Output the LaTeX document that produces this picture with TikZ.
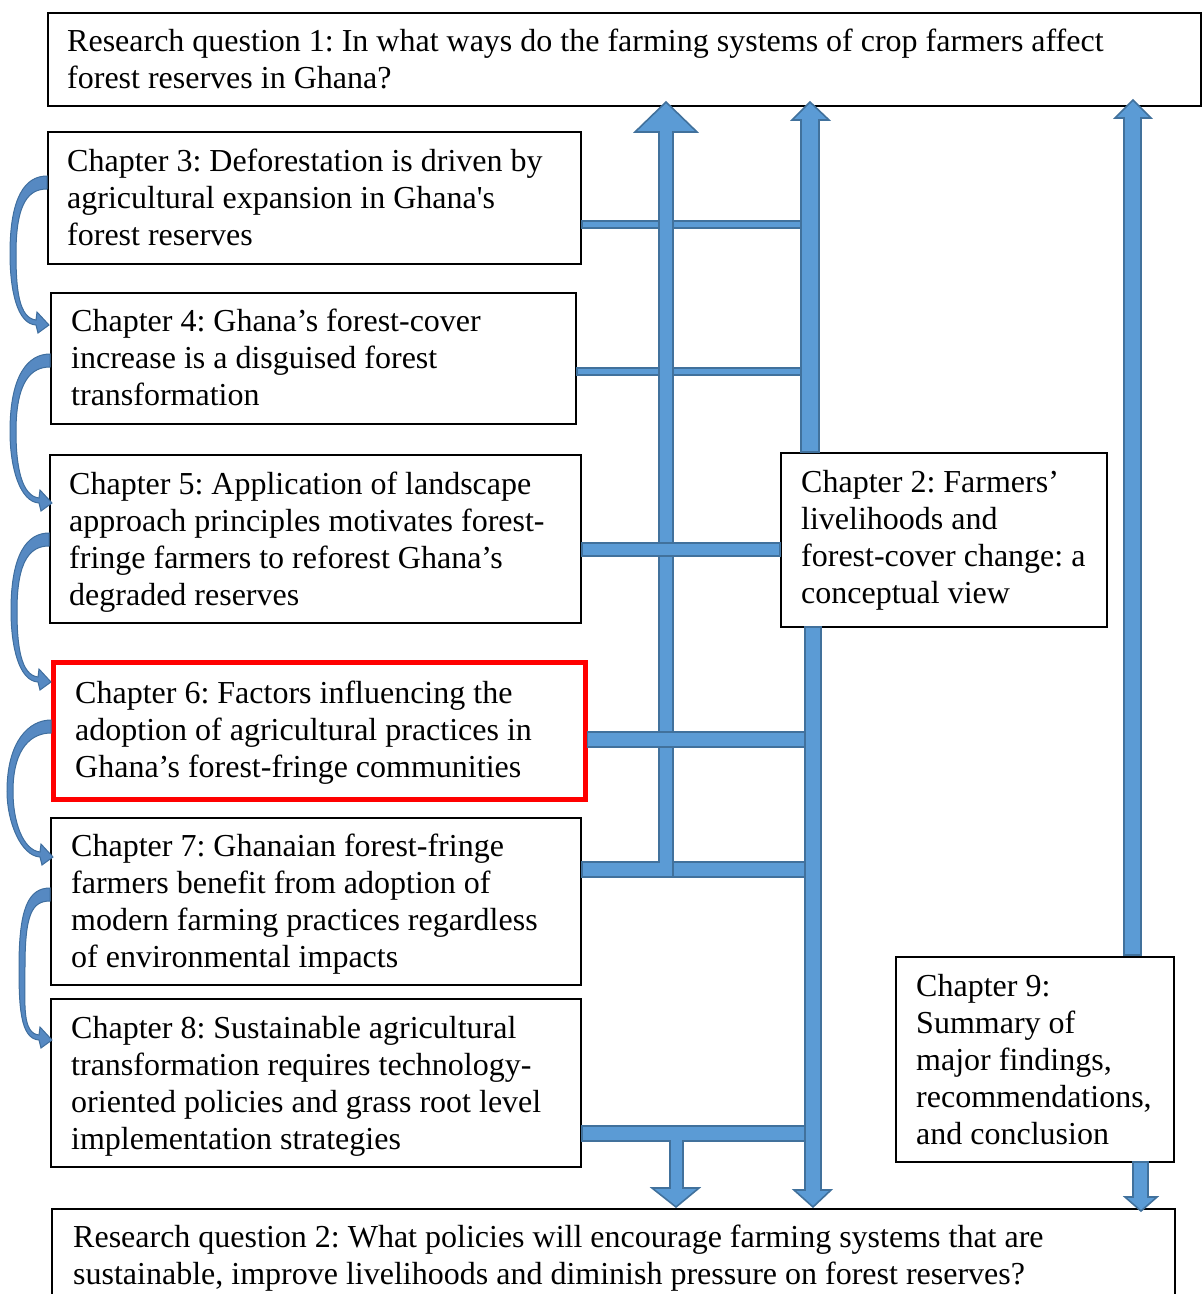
\documentclass[tikz,border=0pt]{standalone}
\usepackage{fontspec}
\setmainfont{Liberation Serif}
\frenchspacing
\definecolor{blockfill}{HTML}{5B9BD5}
\definecolor{blockedge}{HTML}{41719C}
\definecolor{curvefill}{HTML}{5689C2}
\definecolor{curveedge}{HTML}{3F6E9E}
% first-line strut: fixes the height of the first text row
\newcommand{\fst}{\rule{0pt}{25pt}}
% curved block arrow on the left: #1 box edge x, #2 start y, #3 tip y, #4 leftmost x
\newcommand{\bendarrow}[4]{%
  \filldraw[curv] (#1,#2-6) .. controls (#1-22,#2-6) and (#4,#2+15) .. ({#4},{(#2+#3)/2})
    .. controls (#4,#3-35) and (#1-30,#3-1) .. (#1-11,#3)
    -- (#1-9,#3+8) -- (#1+2,#3) -- (#1-10,#3-13) -- (#1-11,#3-5)
    .. controls (#1-28,#3-7) and (#4+6,#3-35) .. ({#4+6},{(#2+#3)/2})
    .. controls (#4+6,#2+20) and (#1-18,#2+7) .. (#1,#2+7) -- cycle;}
\begin{document}
\begin{tikzpicture}[x=1pt,y=-1pt,
  frame/.style={draw=black, line width=2pt, fill=white, anchor=north west, inner sep=0pt},
  hotframe/.style={frame, draw=red, line width=4.5pt},
  txt/.style={font=\fontsize{32pt}{37pt}\selectfont, align=left, inner sep=0pt, anchor=north west},
  blk/.style={fill=blockfill, draw=blockedge, line width=1.6pt, line join=miter},
  curv/.style={fill=curvefill, draw=curveedge, line width=1pt, line join=miter}]
\useasboundingbox (0,0) rectangle (1202,1294);
\clip (0,0) rectangle (1202,1294);

% boxes
\node[frame, minimum width=1153pt, minimum height=93pt] (rq1) at (47,12) {};
\node[frame, minimum width=533pt, minimum height=132pt] (ch3) at (47,131) {};
\node[frame, minimum width=525pt, minimum height=131pt] (ch4) at (50,292) {};
\node[frame, minimum width=531pt, minimum height=168pt] (ch5) at (49,454) {};
\node[hotframe, minimum width=532pt, minimum height=137pt] (ch6) at (51,660) {};
\node[frame, minimum width=530pt, minimum height=167pt] (ch7) at (50,817) {};
\node[frame, minimum width=530pt, minimum height=168pt] (ch8) at (50,998) {};
\node[frame, minimum width=326pt, minimum height=174pt] (ch2) at (780,452) {};
\node[frame, minimum width=278pt, minimum height=205pt] (ch9) at (895,956) {};
\node[frame, minimum width=1123pt, minimum height=120pt] (rq2) at (51,1208) {};

% texts
\node[txt] (rq1t) at ([xshift=20pt,yshift=-14pt]rq1.north west)
  {\fst Research question 1: In what ways do the farming systems of crop farmers affect\\forest reserves in Ghana?};
\node[txt] (ch3t) at ([xshift=20pt,yshift=-15pt]ch3.north west)
  {\fst Chapter 3: Deforestation is driven by\\agricultural expansion in Ghana\textquotesingle s\\forest reserves};
\node[txt] (ch4t) at ([xshift=21pt,yshift=-14pt]ch4.north west)
  {\fst Chapter 4: Ghana’s forest-cover\\increase is a disguised forest\\transformation};
\node[txt] (ch5t) at ([xshift=20pt,yshift=-15pt]ch5.north west)
  {\fst Chapter 5: Application of landscape\\approach principles motivates forest-\\fringe farmers to reforest Ghana’s\\degraded reserves};
\node[txt] (ch6t) at ([xshift=24pt,yshift=-18pt]ch6.north west)
  {\fst Chapter 6: Factors influencing the\\adoption of agricultural practices in\\Ghana’s forest-fringe communities};
\node[txt] (ch7t) at ([xshift=21pt,yshift=-14pt]ch7.north west)
  {\fst Chapter 7: Ghanaian forest-fringe\\farmers benefit from adoption of\\modern farming practices regardless\\of environmental impacts};
\node[txt] (ch8t) at ([xshift=21pt,yshift=-15pt]ch8.north west)
  {\fst Chapter 8: Sustainable agricultural\\transformation requires technology-\\oriented policies and grass root level\\implementation strategies};
\node[txt] (ch2t) at ([xshift=21pt,yshift=-15pt]ch2.north west)
  {\fst Chapter 2: Farmers’\\livelihoods and\\forest-cover change: a\\conceptual view};
\node[txt] (ch9t) at ([xshift=21pt,yshift=-15pt]ch9.north west)
  {\fst Chapter 9:\\Summary of\\major findings,\\recommendations,\\and conclusion};
\node[txt] (rq2t) at ([xshift=22pt,yshift=-14pt]rq2.north west)
  {\fst Research question 2: What policies will encourage farming systems that are\\sustainable, improve livelihoods and diminish pressure on forest reserves?};

% thin links from chapters 3 and 4 to the chapter 2 trunk
\draw[blk] (ch3.east |- 0,221) rectangle (801,228);
\draw[blk] (ch4.east |- 0,368) rectangle (801,375);

% chapter 7 link joined to the upward arrow into research question 1
\draw[blk] (ch7.east |- 0,862) -- (659,862) -- (659,132) -- (635,132) -- (666,102)
  -- (697,132) -- (673,132) -- (673,877) -- (ch7.east |- 0,877) -- cycle;
\draw[blk] (673,862) rectangle (805,877);

% links from chapters 5 and 6
\draw[blk] (ch5.east |- 0,543) rectangle (ch2.west |- 0,556);
\draw[blk] (ch6.east |- 0,732) rectangle (805,747);

% chapter 2 trunk: up to research question 1, down to research question 2
\draw[blk] (801,452) -- (801,120) -- (792,120) -- (810,102) -- (829,120) -- (819,120)
  -- (819,452) -- cycle;
\draw[blk] (805,627) -- (805,1190) -- (794,1190) -- (813,1207) -- (831,1190) -- (821,1190)
  -- (821,627) -- cycle;

% chapter 8 link with its drop into research question 2
\draw[blk] (ch8.east |- 0,1126) -- (805,1126) -- (805,1141) -- (683,1141) -- (683,1188)
  -- (699,1188) -- (676,1207) -- (652,1188) -- (670,1188) -- (670,1141)
  -- (ch8.east |- 0,1141) -- cycle;

% chapter 9 arrows
\draw[blk] (1124,955) -- (1124,118) -- (1115,118) -- (1133,100) -- (1151,118) -- (1141,118)
  -- (1141,955) -- cycle;
\draw[blk] (1133,1162) -- (1133,1197) -- (1125,1197) -- (1141,1211) -- (1157,1197)
  -- (1148,1197) -- (1148,1162) -- cycle;

% curved arrows chaining the chapters
\bendarrow{47}{182}{325}{10}
\bendarrow{50}{360}{503}{10}
\bendarrow{49}{539}{682}{11}
\bendarrow{51}{726}{857}{7}
\bendarrow{50}{894}{1040}{19}
\end{tikzpicture}
\end{document}
